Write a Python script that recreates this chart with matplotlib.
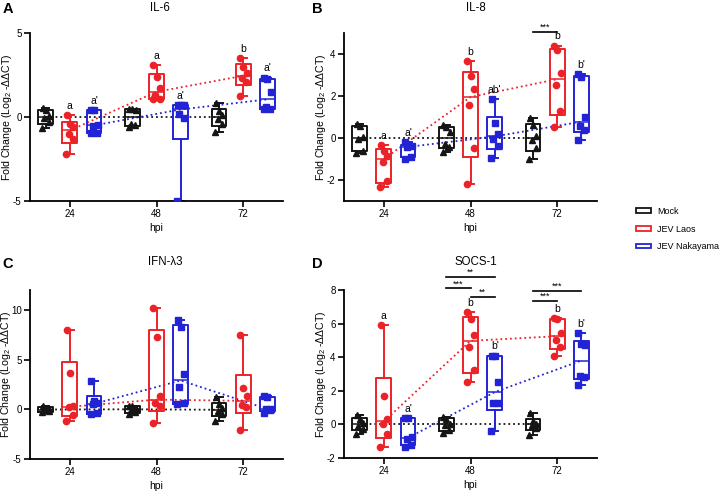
import numpy as np
import matplotlib.pyplot as plt
from matplotlib.patches import Patch

plt.rcParams['font.family'] = ['Liberation Sans', 'DejaVu Sans']
plt.rcParams['mathtext.fontset'] = 'custom'
plt.rcParams['mathtext.rm'] = 'Liberation Sans'
plt.rcParams['axes.unicode_minus'] = False

# ---- data ----
hpi = ['24', '48', '72']
groups = ['Mock', 'JEV Laos', 'JEV Nakayama']

# IL-6
il6_mock = [[-0.65, -0.3, -0.05, 0.05, 0.4, 0.55], [-0.6, -0.5, -0.4, 0.4, 0.5, 0.5], [-0.9, -0.4, -0.1, 0.1, 0.35, 0.85]]
il6_laos = [[-2.2, -1.3, -1.0, -0.6, -0.4, 0.1], [1.05, 1.1, 1.3, 1.7, 2.4, 3.1], [1.25, 2.1, 2.3, 2.6, 3.0, 3.5]]
il6_naka = [[-0.95, -0.95, -0.55, -0.45, 0.4, 0.4], [-5.0, -0.05, 0.2, 0.7, 0.7, 0.7], [0.45, 0.5, 0.6, 1.5, 2.25, 2.35]]

# IL-8
il8_mock = [[-0.7, -0.6, -0.05, 0.05, 0.55, 0.65], [-0.65, -0.45, -0.3, 0.3, 0.5, 0.6], [-1.0, -0.5, -0.1, 0.1, 0.6, 0.95]]
il8_laos = [[-2.35, -2.05, -1.15, -0.85, -0.6, -0.35], [-2.2, -0.5, 1.55, 2.35, 2.95, 3.65], [0.5, 1.3, 2.5, 3.1, 4.2, 4.4]]
il8_naka = [[-1.0, -0.9, -0.45, -0.4, -0.35, -0.2], [-0.95, -0.4, -0.05, 0.2, 0.7, 1.85], [-0.1, 0.4, 0.55, 1.0, 2.9, 3.05]]

# IFN-lambda3
ifn_mock = [[-0.3, -0.2, -0.1, 0.05, 0.15, 0.3], [-0.45, -0.3, -0.1, 0.1, 0.3, 0.35], [-1.2, -0.45, -0.2, 0.1, 0.5, 1.2]]
ifn_laos = [[-1.2, -0.55, 0.2, 0.3, 3.7, 8.0], [-1.4, 0.3, 0.6, 1.35, 7.25, 10.2], [-2.05, 0.25, 0.4, 1.3, 2.1, 7.45]]
ifn_naka = [[-0.5, -0.4, 0.5, 0.6, 0.8, 2.8], [0.5, 0.6, 2.2, 3.6, 8.25, 9.0], [-0.35, -0.1, 0.0, 0.05, 1.2, 1.3]]

# SOCS-1
socs_mock = [[-0.55, -0.3, -0.1, 0.1, 0.35, 0.55], [-0.5, -0.35, -0.05, 0.05, 0.35, 0.45], [-0.65, -0.2, -0.05, 0.05, 0.2, 0.65]]
socs_laos = [[-1.35, -0.6, 0.0, 0.35, 1.7, 5.9], [2.55, 3.25, 4.6, 5.35, 6.3, 6.7], [4.1, 4.6, 5.05, 5.45, 6.25, 6.35]]
socs_naka = [[-1.35, -1.2, -0.85, -0.75, 0.4, 0.4], [-0.4, 1.25, 1.3, 2.55, 4.1, 4.1], [2.35, 2.85, 2.9, 4.7, 4.8, 5.45]]

# significance letters (Laos, Nakayama)
il6_letters = (['a', 'a', 'b'], ["a'", "a'", "a'"])
il8_letters = (['a', 'b', 'b'], ["a'", "ab'", "b'"])
socs_letters = (['a', 'b', 'b'], ["a'", "b'", "b'"])

colors = ['#151515', '#ec2229', '#2323d6']
markers = ['^', 'o', 's']
offsets = [-0.28, 0.0, 0.28]
box_w = 0.17
jitter = np.array([-0.04, 0.035, -0.015, 0.04, 0.0, -0.035])


def draw_panel(ax, series, ylim, yticks, letters=None, bars=(), ylab_x=-0.062):
    for g, data in enumerate(series):
        col = colors[g]
        pos = np.arange(len(hpi)) + offsets[g]
        stats = []
        for vals in data:
            v = np.asarray(vals)
            q1, med, q3 = np.percentile(v, [25, 50, 75], method='weibull')
            stats.append(dict(med=med, q1=q1, q3=q3, whislo=v.min(), whishi=v.max()))
        # dotted line linking medians
        ax.plot(pos, [s['med'] for s in stats], ls=':', color=col, lw=1.3, zorder=1)
        ax.bxp(stats, positions=pos, widths=box_w, showfliers=False, manage_ticks=False,
               boxprops=dict(color=col, lw=1.4), medianprops=dict(color=col, lw=1.1),
               whiskerprops=dict(color=col, lw=1.4), capprops=dict(color=col, lw=1.4))
        for i, vals in enumerate(data):
            ax.plot(pos[i] + jitter[:len(vals)], vals, ls='none', marker=markers[g],
                    color=col, ms=4.5, zorder=3)
            if letters is not None and g > 0:
                ax.annotate(letters[g - 1][i], (pos[i], max(vals)), xytext=(0, 3),
                            textcoords='offset points', ha='center', va='bottom', fontsize=7.5)
    for i, g1, g2, y, lab in bars:
        x1, x2 = i + offsets[g1], i + offsets[g2]
        ax.plot([x1, x2], [y, y], color='k', lw=1.2, clip_on=False)
        ax.text((x1 + x2) / 2, y, lab, ha='center', va='bottom', fontsize=6.5)

    ax.set_xlim(-0.46, 2.46)
    ax.set_ylim(*ylim)
    ax.set_yticks(yticks)
    ax.set_xticks(range(len(hpi)))
    ax.set_xticklabels(hpi)
    ax.spines['top'].set_visible(False)
    ax.spines['right'].set_visible(False)
    for s in ['left', 'bottom']:
        ax.spines[s].set_linewidth(1.3)
    ax.tick_params(labelsize=7, width=1.2, length=4, pad=2)
    ax.set_xlabel('hpi', fontsize=7.5)
    ax.set_ylabel('Fold Change (Log$_2$ -ΔΔCT)', fontsize=7.6)
    ax.xaxis.set_label_coords(0.5, -0.13)
    ax.yaxis.set_label_coords(ylab_x, 0.5)


fig = plt.figure(figsize=(7.2, 4.92), dpi=100)
W, H = 720, 492
axA = fig.add_axes([30 / W, 1 - 201 / H, 253 / W, 168 / H])
axB = fig.add_axes([344 / W, 1 - 201 / H, 253 / W, 168 / H])
axC = fig.add_axes([30 / W, 1 - 459 / H, 253 / W, 169 / H])
axD = fig.add_axes([344 / W, 1 - 458 / H, 253 / W, 168 / H])

draw_panel(axA, [il6_mock, il6_laos, il6_naka], (-5, 5), [-5, 0, 5], il6_letters)
draw_panel(axB, [il8_mock, il8_laos, il8_naka], (-3, 5), [-2, 0, 2, 4], il8_letters,
           bars=[(2, 0, 1, 5.05, '***')])
draw_panel(axC, [ifn_mock, ifn_laos, ifn_naka], (-5, 12), [-5, 0, 5, 10], ylab_x=-0.069)
draw_panel(axD, [socs_mock, socs_laos, socs_naka], (-2, 8), [-2, 0, 2, 4, 6, 8], socs_letters,
           bars=[(1, 0, 2, 8.8, '**'), (1, 0, 1, 8.1, '***'), (1, 1, 2, 7.6, '**'),
                 (2, 0, 2, 7.95, '***'), (2, 0, 1, 7.35, '***')])

titles = [('IL-6', 160, 8), ('IL-8', 476, 8), ('IFN-λ3', 165, 262), ('SOCS-1', 476, 262)]
for t, x, y in titles:
    fig.text(x / W, 1 - y / H, t, ha='center', va='center', fontsize=8.3)
for lab, x, y in [('A', 8, 9), ('B', 317, 9), ('C', 8, 264), ('D', 317, 264)]:
    fig.text(x / W, 1 - y / H, lab, ha='center', va='center', fontsize=10.5, fontweight='bold')

handles = [Patch(facecolor='white', edgecolor=c, lw=1.3, label=l) for c, l in zip(colors, groups)]
fig.legend(handles=handles, loc='upper left', bbox_to_anchor=(628 / W, 1 - 199 / H), frameon=False,
           fontsize=6.5, handlelength=1.65, handleheight=0.45, handletextpad=0.7, labelspacing=0.95)

fig.savefig('out.png', dpi=100)
